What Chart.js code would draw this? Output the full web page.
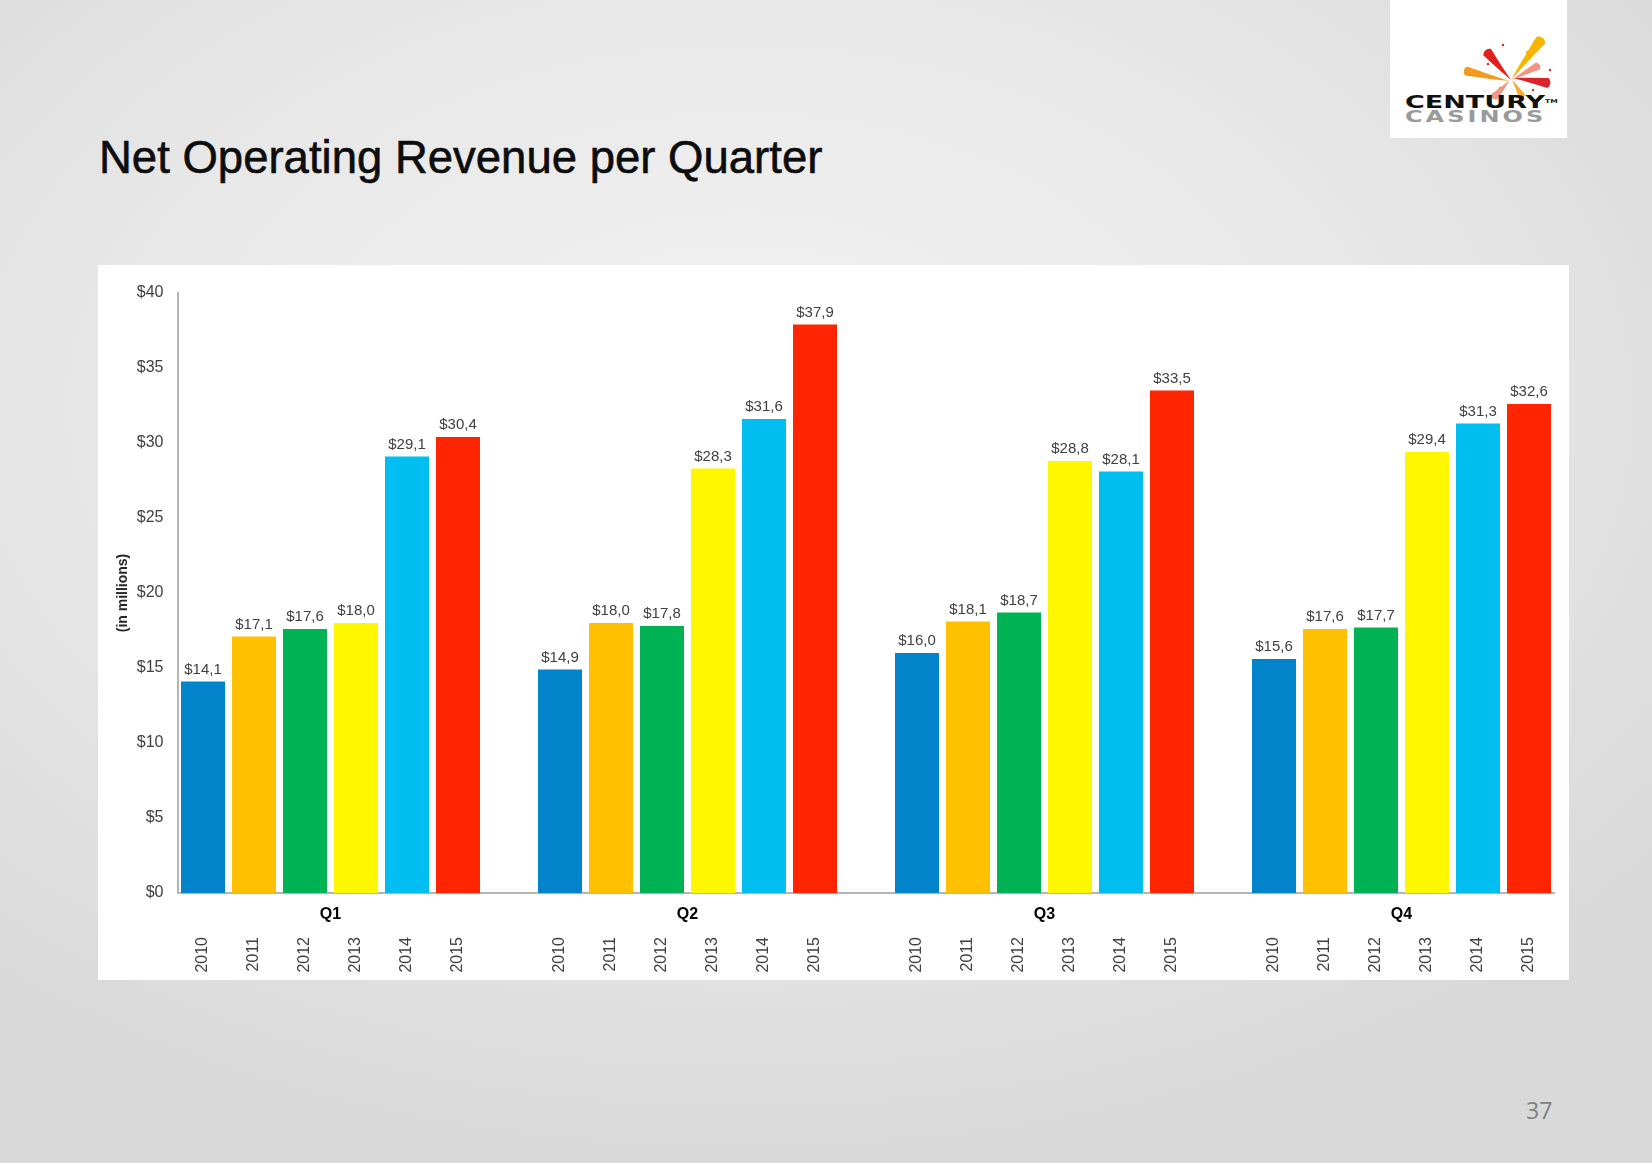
<!DOCTYPE html>
<html><head><meta charset="utf-8">
<script src="https://cdn.jsdelivr.net/npm/chart.js@4.4.1/dist/chart.umd.min.js"></script>
<style>
html,body{margin:0;padding:0;}
body{width:1652px;height:1163px;position:relative;overflow:hidden;
 background:radial-gradient(ellipse 70% 65% at 45% 35%, #f3f3f3 0%, #e8e8e8 55%, #d9d9d9 100%);
 font-family:"Liberation Sans",Arial,Helvetica,sans-serif;}
#title{position:absolute;left:99px;top:135px;font-size:45.5px;line-height:45.5px;color:#0d0d0d;white-space:nowrap;-webkit-text-stroke:0.6px #0d0d0d;}
#panel{position:absolute;left:98px;top:265px;width:1471px;height:715px;background:#fff;}
#panel canvas{position:absolute;left:0;top:0;}
#logo{position:absolute;left:1390px;top:0;width:177px;height:138px;background:#fff;}
#logo svg{position:absolute;left:0;top:0;}
.lt{position:absolute;white-space:nowrap;transform-origin:0 0;}
#cent{left:15px;top:93px;font:bold 18px/18px "DejaVu Sans",sans-serif;color:#111;transform:scaleX(1.5);}
#cent sup{font-size:5px;vertical-align:top;position:relative;top:-1px;}
#cas{left:15px;top:109px;font:bold 16px/16px "DejaVu Sans",sans-serif;color:#9a9a9a;letter-spacing:2px;transform:scaleX(1.5);}
#page{position:absolute;left:1526px;top:1099px;font:23px/23px "Open Sans",sans-serif;color:#7f7f7f;}
</style></head>
<body>
<div id="title">Net Operating Revenue per Quarter</div>
<div id="logo"><svg id="burst" width="177" height="138"></svg>
 <div class="lt" id="cent">CENTURY<sup>TM</sup></div>
 <div class="lt" id="cas">CASINOS</div>
</div>
<div id="panel"><canvas id="c" width="1471" height="715"></canvas></div>
<div id="page">37</div>
<script>
// ---- data ----
const quarters = ['Q1', 'Q2', 'Q3', 'Q4'];
const years = ['2010', '2011', '2012', '2013', '2014', '2015'];
const rev2010 = [14.1, 14.9, 16.0, 15.6];
const rev2011 = [17.1, 18.0, 18.1, 17.6];
const rev2012 = [17.6, 17.8, 18.7, 17.7];
const rev2013 = [18.0, 28.3, 28.8, 29.4];
const rev2014 = [29.1, 31.6, 28.1, 31.3];
const rev2015 = [30.4, 37.9, 33.5, 32.6];
const yTickValues = [0, 5, 10, 15, 20, 25, 30, 35, 40];

// ---- styles ----
const yearColors = ['#0284CB', '#FFC000', '#00B254', '#FFF700', '#00BEF0', '#FF2500'];
const series = [rev2010, rev2011, rev2012, rev2013, rev2014, rev2015];

// build slot layout: 6 years per quarter, an empty slot between quarters
const slots = [];
quarters.forEach((q, qi) => {
  years.forEach((y, yi) => slots.push({ q: qi, y: yi, label: y }));
  if (qi < quarters.length - 1) slots.push({ q: qi, y: -1, label: '' });
});
const slotLabels = slots.map(s => s.label);

const datasets = years.map((yr, yi) => ({
  label: yr,
  data: slots.map(s => s.y === yi ? series[yi][s.q] : null),
  backgroundColor: yearColors[yi],
  grouped: false,
  barPercentage: 44 / 51,
  categoryPercentage: 1
}));

const FONT = '"Liberation Sans", Arial, Helvetica, sans-serif';

const valueLabels = {
  id: 'valueLabels',
  afterDatasetsDraw(chart) {
    const ctx = chart.ctx;
    ctx.save();
    ctx.font = '15px ' + FONT;
    ctx.fillStyle = '#404040';
    ctx.textAlign = 'center';
    ctx.textBaseline = 'alphabetic';
    chart.data.datasets.forEach((ds, di) => {
      const meta = chart.getDatasetMeta(di);
      meta.data.forEach((el, i) => {
        const v = ds.data[i];
        if (v === null || v === undefined) return;
        ctx.fillText('$' + v.toFixed(1).replace('.', ','), el.x, el.y - 8);
      });
    });
    ctx.restore();
  }
};

const quarterLabels = {
  id: 'quarterLabels',
  afterDraw(chart) {
    const ctx = chart.ctx;
    const xs = chart.scales.x;
    ctx.save();
    ctx.font = 'bold 16px ' + FONT;
    ctx.fillStyle = '#000';
    ctx.textAlign = 'center';
    ctx.textBaseline = 'middle';
    quarters.forEach((q, qi) => {
      const first = slots.findIndex(s => s.q === qi && s.y === 0);
      const last = slots.findIndex(s => s.q === qi && s.y === years.length - 1);
      const x = (xs.getPixelForValue(first) + xs.getPixelForValue(last)) / 2;
      ctx.fillText(q, x, chart.chartArea.bottom + 22);
    });
    ctx.restore();
  }
};

new Chart(document.getElementById('c'), {
  type: 'bar',
  data: { labels: slotLabels, datasets },
  options: {
    responsive: false,
    animation: false,
    devicePixelRatio: 1,
    layout: { padding: { left: 0, top: 28, right: 14.5, bottom: 0 } },
    plugins: { legend: { display: false }, tooltip: { enabled: false } },
    scales: {
      x: {
        grid: { display: false, drawTicks: false },
        border: { display: true, color: '#b5b5b5', width: 2 },
        ticks: { autoSkip: false, minRotation: 90, maxRotation: 90, padding: 44,
                 color: '#404040', font: { family: FONT, size: 16 } },
        afterFit: s => { s.height = 87; s.paddingLeft = 0; s.paddingRight = 0; }
      },
      y: {
        min: 0, max: 40,
        afterBuildTicks: s => { s.ticks = yTickValues.map(v => ({ value: v })); },
        grid: { display: false, drawTicks: false },
        border: { display: true, color: '#b5b5b5', width: 2 },
        ticks: { padding: 14, color: '#404040', font: { family: FONT, size: 16 },
                 callback: v => '$' + v },
        title: { display: true, text: '(in millions)', color: '#262626',
                 font: { family: FONT, size: 14, weight: 'bold' }, padding: { top: 17, bottom: 0 } },
        afterFit: s => { s.width = 79.5; s.paddingTop = 0; s.paddingBottom = 0; }
      }
    }
  },
  plugins: [valueLabels, quarterLabels]
});

// ---- logo burst ----
(function () {
  const svg = document.getElementById('burst');
  const NS = 'http://www.w3.org/2000/svg';
  function feather(px, py, cx, cy, w, color) {
    const dx = cx - px, dy = cy - py, len = Math.hypot(dx, dy);
    const nx = -dy / len, ny = dx / len, ux = dx / len, uy = dy / len;
    const a1 = [px + nx * w / 2, py + ny * w / 2], a2 = [px - nx * w / 2, py - ny * w / 2];
    const m1 = [px + dx * 0.5 + nx * w * 0.3, py + dy * 0.5 + ny * w * 0.3];
    const m2 = [px + dx * 0.5 - nx * w * 0.2, py + dy * 0.5 - ny * w * 0.2];
    const tip = [px - ux * w * 0.5, py - uy * w * 0.5];
    const d = `M${a1[0]},${a1[1]} Q${m1[0]},${m1[1]} ${cx},${cy} Q${m2[0]},${m2[1]} ${a2[0]},${a2[1]} Q${tip[0]},${tip[1]} ${a1[0]},${a1[1]} Z`;
    const p = document.createElementNS(NS, 'path');
    p.setAttribute('d', d); p.setAttribute('fill', color);
    svg.appendChild(p);
  }
  feather(97, 52, 121, 80, 10, '#e3201b');
  feather(76, 71, 119, 81, 9, '#f39a1e');
  feather(158, 83, 123, 78, 10, '#d8242b');
  feather(148, 66, 122, 80, 8, '#f19484');
  feather(104, 97, 120, 80, 8, '#f2968c');
  feather(132, 96, 122, 80, 7, '#f6ad2f');
  feather(151, 40, 121, 80, 11, '#f7b500');
  [[113, 45, '#e3201b'], [137, 52, '#f7b500'], [98, 64, '#e3201b'], [143, 90, '#d8242b'], [110, 88, '#f39a1e'], [160, 70, '#e3201b']]
    .forEach(([x, y, c]) => {
      const e = document.createElementNS(NS, 'circle');
      e.setAttribute('cx', x); e.setAttribute('cy', y); e.setAttribute('r', 1.2); e.setAttribute('fill', c);
      svg.appendChild(e);
    });
})();
</script>
</body></html>
